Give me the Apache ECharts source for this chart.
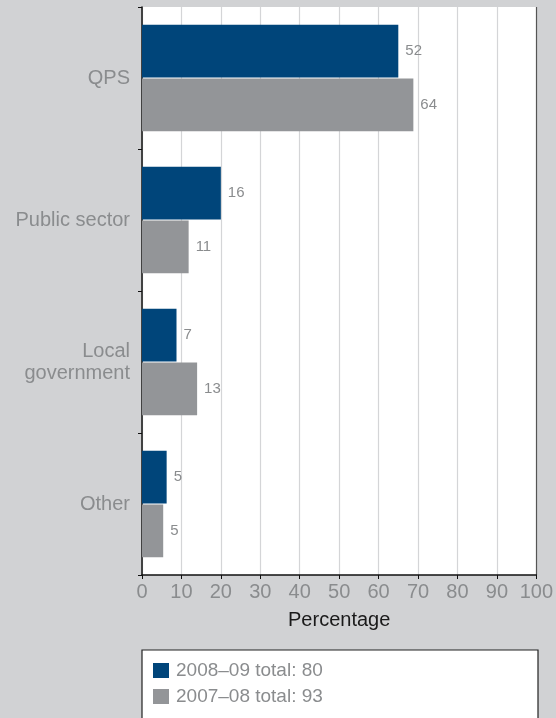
<!DOCTYPE html>
<html>
<head>
<meta charset="utf-8">
<script src="https://cdn.jsdelivr.net/npm/echarts@6/dist/echarts.min.js"></script>
<style>
  html, body { margin: 0; padding: 0; background: #d1d2d4; }
  #chart { width: 556px; height: 718px; }
</style>
</head>
<body>
<div id="chart"></div>
<script>
// Where staff came from: counts per source, shown as a share of each year's total
const categories = ['QPS', 'Public sector', 'Local\ngovernment', 'Other'];
const seriesNames = ['2008–09', '2007–08'];
const totals = [80, 93];
const counts2008_09 = [52, 16, 7, 5];
const counts2007_08 = [64, 11, 13, 5];
const xTicks = [0, 10, 20, 30, 40, 50, 60, 70, 80, 90, 100];

const colors = ['#00457a', '#939598'];
const grey = '#8a8c8e';
const font = 'Liberation Sans, Arial, Helvetica, sans-serif';

function toShare(counts, total) {
  return counts.map(c => ({ value: c / total * 100, count: c }));
}

const chart = echarts.init(document.getElementById('chart'));

// light vertical gridlines, with a darker closing line at 100
const gridColors = xTicks.map((t, i) => i === xTicks.length - 1 ? '#555' : '#d4d5d7');

const valueLabel = {
  show: true, position: 'right', distance: 7,
  color: grey, fontSize: 15, fontFamily: font,
  formatter: p => p.data.count
};

chart.setOption({
  backgroundColor: '#d1d2d4',
  animation: false,
  grid: {
    left: 142, right: 18, top: 7, bottom: 143,
    show: true, backgroundColor: '#ffffff', borderWidth: 0
  },
  xAxis: {
    type: 'value',
    min: xTicks[0], max: xTicks[xTicks.length - 1], interval: 10,
    name: 'Percentage',
    nameLocation: 'middle',
    nameGap: 35,
    nameTextStyle: { color: '#1a1a1a', fontSize: 20, fontFamily: font },
    axisLine: { show: true, lineStyle: { color: '#111', width: 1.5 } },
    axisTick: { show: true, length: 4, lineStyle: { color: '#111' } },
    axisLabel: { color: grey, fontSize: 20, fontFamily: font, margin: 7 },
    splitLine: { show: true, lineStyle: { color: gridColors, width: 1.2 } }
  },
  yAxis: {
    type: 'category',
    data: categories,
    inverse: true,
    axisLine: { show: true, lineStyle: { color: '#111', width: 1.5 } },
    axisTick: { show: true, length: 4, lineStyle: { color: '#111' } },
    axisLabel: { color: grey, fontSize: 20, fontFamily: font, margin: 12, lineHeight: 22, align: 'right' }
  },
  legend: {
    orient: 'vertical',
    left: 153, top: 661, height: 50,
    padding: 0,
    itemWidth: 16, itemHeight: 15, itemGap: 7,
    icon: 'rect',
    textStyle: { color: grey, fontSize: 19, lineHeight: 15, fontFamily: font, padding: [0, 0, 0, 2] },
    formatter: name => name + ' total: ' + totals[seriesNames.indexOf(name)],
    data: seriesNames
  },
  graphic: [{
    type: 'rect',
    z: -1,
    shape: { x: 142, y: 650, width: 396, height: 80 },
    style: { fill: '#ffffff', stroke: '#222', lineWidth: 1.2 }
  }],
  series: [
    {
      name: seriesNames[0], type: 'bar',
      data: toShare(counts2008_09, totals[0]),
      itemStyle: { color: colors[0] },
      barCategoryGap: '25%', barGap: '2%',
      label: valueLabel
    },
    {
      name: seriesNames[1], type: 'bar',
      data: toShare(counts2007_08, totals[1]),
      itemStyle: { color: colors[1] },
      barCategoryGap: '25%', barGap: '2%',
      label: valueLabel
    }
  ]
});
</script>
</body>
</html>
